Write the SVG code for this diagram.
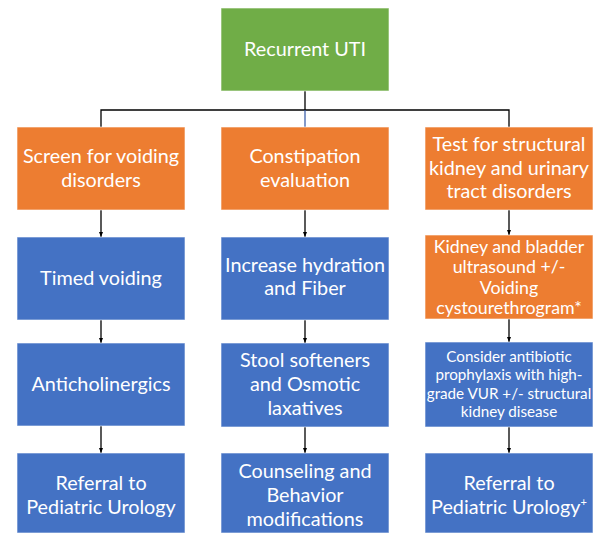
<svg xmlns="http://www.w3.org/2000/svg" width="596" height="534" viewBox="0 0 596 534">
<defs>
<marker id="ah" viewBox="0 0 10 10" refX="10" refY="5" markerWidth="4" markerHeight="4" orient="auto" markerUnits="strokeWidth"><path d="M0,1 L10,5 L0,9 z" fill="#000"/></marker>
<style>
.g{fill:#70AD47}
.o{fill:#ED7D31}
.b{fill:#4472C4}
.box{stroke:#ffffff;stroke-opacity:0.6;stroke-width:1}
text{font-family:Lato,"Open Sans","Liberation Sans",sans-serif;fill:#ffffff;text-anchor:middle}
.t18{font-size:19.8px}
.t16{font-size:17.8px}
.t14{font-size:15.2px}
.c{stroke:#000;stroke-width:1.3;fill:none}
.a{stroke:#000;stroke-width:1.3;fill:none;marker-end:url(#ah)}
</style>
</defs>
<rect width="596" height="534" fill="#ffffff"/>
<g id="connectors">
<path class="c" d="M305,91 V110 M101,127 V110 H509 V127"/>
<path d="M305,110 V127" stroke="#2F55A4" stroke-width="1.2" fill="none"/>
<path class="a" d="M101,210 V237"/>
<path class="a" d="M101,320 V343"/>
<path class="a" d="M101,426 V453"/>
<path class="a" d="M305,210 V237"/>
<path class="a" d="M305,320 V343"/>
<path class="a" d="M305,426 V453"/>
<path class="a" d="M509,210 V235"/>
<path class="a" d="M509,319 V342"/>
<path class="a" d="M509,427 V453"/>
</g>
<g id="n0"><rect class="g box" x="221" y="8" width="168" height="83"/><text class="t18" x="305" y="56">Recurrent UTI</text></g>
<g id="n1"><rect class="o box" x="17" y="127" width="168" height="83"/><text class="t18" x="101" y="163">Screen for voiding</text><text class="t18" x="101" y="187">disorders</text></g>
<g id="n2"><rect class="o box" x="221" y="127" width="168" height="83"/><text class="t18" x="305" y="163">Constipation</text><text class="t18" x="305" y="187">evaluation</text></g>
<g id="n3"><rect class="o box" x="425" y="127" width="168" height="83"/><text class="t18" x="509" y="151">Test for structural</text><text class="t18" x="509" y="175">kidney and urinary</text><text class="t18" x="509" y="198">tract disorders</text></g>
<g id="n4"><rect class="b box" x="17" y="237" width="168" height="83"/><text class="t18" x="101" y="285">Timed voiding</text></g>
<g id="n5"><rect class="b box" x="221" y="237" width="168" height="83"/><text class="t18" x="305" y="272">Increase hydration</text><text class="t18" x="305" y="295">and Fiber</text></g>
<g id="n6"><rect class="o box" x="425" y="235" width="168" height="84"/><text class="t16" x="509" y="253">Kidney and bladder</text><text class="t16" x="509" y="273">ultrasound +/-</text><text class="t16" x="509" y="294">Voiding</text><text class="t16" x="509" y="314">cystourethrogram*</text></g>
<g id="n7"><rect class="b box" x="17" y="343" width="168" height="83"/><text class="t18" x="101" y="391">Anticholinergics</text></g>
<g id="n8"><rect class="b box" x="221" y="343" width="168" height="84"/><text class="t18" x="305" y="367">Stool softeners</text><text class="t18" x="305" y="391">and Osmotic</text><text class="t18" x="305" y="415">laxatives</text></g>
<g id="n9"><rect class="b box" x="425" y="342" width="168" height="85"/><text class="t14" x="509" y="362">Consider antibiotic</text><text class="t14" x="509" y="380">prophylaxis with high-</text><text class="t14" x="509" y="399">grade VUR +/- structural</text><text class="t14" x="509" y="417">kidney disease</text></g>
<g id="n10"><rect class="b box" x="17" y="453" width="168" height="80"/><text class="t18" x="101" y="490">Referral to</text><text class="t18" x="101" y="514">Pediatric Urology</text></g>
<g id="n11"><rect class="b box" x="221" y="453" width="168" height="80"/><text class="t18" x="305" y="478">Counseling and</text><text class="t18" x="305" y="502">Behavior</text><text class="t18" x="305" y="526">modifications</text></g>
<g id="n12"><rect class="b box" x="425" y="453" width="168" height="80"/><text class="t18" x="509" y="490">Referral to</text><text class="t18" x="509" y="514">Pediatric Urology<tspan font-size="11" dy="-8">+</tspan></text></g>
</svg>
